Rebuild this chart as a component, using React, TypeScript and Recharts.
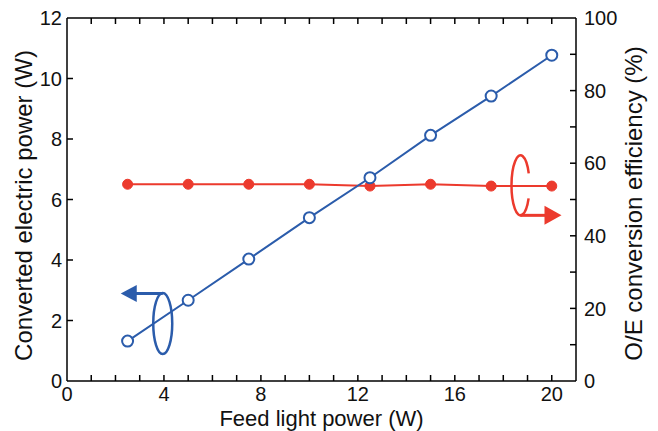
import React from 'react';
import { ComposedChart, Line, XAxis, YAxis, ReferenceDot } from 'recharts';

// Feed light power (W)
const feedPower = [2.5, 5, 7.5, 10, 12.5, 15, 17.5, 20];
// Converted electric power (W), left axis
const electricPower = [1.32, 2.67, 4.03, 5.4, 6.72, 8.12, 9.42, 10.77];
// O/E conversion efficiency (%), right axis
const efficiency = [54.2, 54.2, 54.2, 54.2, 53.7, 54.2, 53.7, 53.7];

const xTicks = [0, 1, 2, 3, 4, 5, 6, 7, 8, 9, 10, 11, 12, 13, 14, 15, 16, 17, 18, 19, 20, 21];
const xLabelTicks = [0, 4, 8, 12, 16, 20];
const leftTicks = [0, 2, 4, 6, 8, 10, 12];
const rightTicks = [0, 10, 20, 30, 40, 50, 60, 70, 80, 90, 100];
const rightLabelTicks = [0, 20, 40, 60, 80, 100];

// where the "which axis" loops sit, in data units
const blueLoop = { x: 3.95, y: 1.9 };
const redLoop = { x: 18.71, y: 53.9 };

const BLUE = '#2b5cab';
const RED = '#ec3a2d';
const FONT = '"Liberation Sans", Arial, sans-serif';
const TICK_FS = 20;
const X_TITLE_FS = 22;
const Y_TITLE_FS = 24;

const data = feedPower.map((x, i) => ({
  x,
  power: electricPower[i],
  eff: efficiency[i],
}));

const BottomTick = (props: any) => {
  const { x, y, payload } = props;
  const v = payload.value;
  return (
    <g>
      {v > 0 && v < 21 && <line x1={x} y1={y} x2={x} y2={y - 6} stroke="#000" strokeWidth={1.5} />}
      {xLabelTicks.includes(v) && (
        <text x={x} y={y + 20} textAnchor="middle" fontSize={TICK_FS} fill="#111" fontFamily={FONT}>
          {v}
        </text>
      )}
    </g>
  );
};

const TopTick = (props: any) => {
  const { x, y, payload } = props;
  const v = payload.value;
  if (v <= 0 || v >= 21) return <g />;
  return <line x1={x} y1={y} x2={x} y2={y + 6} stroke="#000" strokeWidth={1.5} />;
};

const LeftTick = (props: any) => {
  const { x, y, payload } = props;
  const v = payload.value;
  return (
    <g>
      {v > 0 && v < 12 && <line x1={x} y1={y} x2={x + 6} y2={y} stroke="#000" strokeWidth={1.5} />}
      <text x={x - 5} y={y} dy="0.36em" textAnchor="end" fontSize={TICK_FS} fill="#111" fontFamily={FONT}>
        {v}
      </text>
    </g>
  );
};

const RightTick = (props: any) => {
  const { x, y, payload } = props;
  const v = payload.value;
  return (
    <g>
      {v > 0 && v < 100 && <line x1={x} y1={y} x2={x - 6} y2={y} stroke="#000" strokeWidth={1.5} />}
      {rightLabelTicks.includes(v) && (
        <text x={x + 8} y={y} dy="0.36em" textAnchor="start" fontSize={TICK_FS} fill="#111" fontFamily={FONT}>
          {v}
        </text>
      )}
    </g>
  );
};

const XTitle = (props: any) => {
  const { viewBox } = props;
  return (
    <text
      x={viewBox.x + viewBox.width / 2}
      y={viewBox.y + viewBox.height - 5}
      textAnchor="middle"
      fontSize={X_TITLE_FS}
      fill="#111"
      fontFamily={FONT}
    >
      Feed light power (W)
    </text>
  );
};

// blue loop + arrow pointing left (left axis)
const BlueMarker = (props: any) => {
  const { cx, cy } = props;
  const top = cy - 30;
  return (
    <g>
      <ellipse cx={cx} cy={cy} rx={9.5} ry={30.5} fill="none" stroke={BLUE} strokeWidth={2.5} />
      <line x1={cx} y1={top} x2={cx - 27} y2={top} stroke={BLUE} strokeWidth={3} />
      <polygon points={`${cx - 42},${top} ${cx - 26},${top - 8.5} ${cx - 26},${top + 8.5}`} fill={BLUE} />
    </g>
  );
};

// red loop + arrow pointing right (right axis), broken where the line crosses
const RedMarker = (props: any) => {
  const { cx, cy } = props;
  const rx = 9;
  const ry = 30;
  const gapTop = cy - 12;
  const gapBot = cy + 13;
  const xt = cx + rx * Math.sqrt(1 - ((gapTop - cy) / ry) ** 2);
  const xb = cx + rx * Math.sqrt(1 - ((gapBot - cy) / ry) ** 2);
  const bottom = cy + ry;
  return (
    <g>
      <path
        d={`M ${xt} ${gapTop} A ${rx} ${ry} 0 1 0 ${xb} ${gapBot}`}
        fill="none"
        stroke={RED}
        strokeWidth={2.5}
      />
      <line x1={cx} y1={bottom} x2={cx + 26} y2={bottom} stroke={RED} strokeWidth={3} />
      <polygon points={`${cx + 41},${bottom} ${cx + 24},${bottom - 9.5} ${cx + 24},${bottom + 9.5}`} fill={RED} />
    </g>
  );
};

export default function App() {
  return (
    <div style={{ width: 658, height: 431, background: '#fff', fontFamily: FONT }}>
      <style>{`body{margin:0}`}</style>
      <ComposedChart width={658} height={431} data={data} margin={{ top: 0, right: 0, bottom: 0, left: 0 }}>
        <XAxis
          xAxisId="bottom"
          type="number"
          dataKey="x"
          domain={[0, 21]}
          ticks={xTicks}
          interval={0}
          height={50}
          tickSize={0}
          tickMargin={0}
          tick={<BottomTick />}
          axisLine={{ stroke: '#000', strokeWidth: 1.5 }}
          label={{ content: (p: any) => <XTitle {...p} /> }}
        />
        <XAxis
          xAxisId="top"
          orientation="top"
          type="number"
          dataKey="x"
          domain={[0, 21]}
          ticks={xTicks}
          interval={0}
          height={18}
          tickSize={0}
          tickMargin={0}
          tick={<TopTick />}
          axisLine={{ stroke: '#000', strokeWidth: 1.5 }}
        />
        <YAxis
          yAxisId="left"
          domain={[0, 12]}
          ticks={leftTicks}
          interval={0}
          width={67}
          tickSize={0}
          tickMargin={0}
          tick={<LeftTick />}
          axisLine={{ stroke: '#000', strokeWidth: 1.5 }}
          label={{
            value: 'Converted electric power (W)',
            angle: -90,
            position: 'insideLeft',
            offset: 23,
            dy: 6,
            style: { textAnchor: 'middle', fontSize: Y_TITLE_FS, fill: '#111', fontFamily: FONT },
          }}
        />
        <YAxis
          yAxisId="right"
          orientation="right"
          domain={[0, 100]}
          ticks={rightTicks}
          interval={0}
          width={82}
          tickSize={0}
          tickMargin={0}
          tick={<RightTick />}
          axisLine={{ stroke: '#000', strokeWidth: 1.5 }}
          label={{
            value: 'O/E conversion efficiency (%)',
            angle: -90,
            position: 'insideRight',
            offset: 25,
            dy: 4,
            style: { textAnchor: 'middle', fontSize: Y_TITLE_FS, fill: '#111', fontFamily: FONT },
          }}
        />
        <Line
          xAxisId="bottom"
          yAxisId="right"
          type="linear"
          dataKey="eff"
          stroke={RED}
          strokeWidth={2}
          dot={{ r: 5, fill: RED, stroke: RED, strokeWidth: 1 }}
          isAnimationActive={false}
        />
        <Line
          xAxisId="bottom"
          yAxisId="left"
          type="linear"
          dataKey="power"
          stroke={BLUE}
          strokeWidth={2}
          dot={{ r: 5.5, fill: '#fff', stroke: BLUE, strokeWidth: 2 }}
          isAnimationActive={false}
        />
        <ReferenceDot xAxisId="bottom" yAxisId="left" x={blueLoop.x} y={blueLoop.y} shape={<BlueMarker />} />
        <ReferenceDot xAxisId="bottom" yAxisId="right" x={redLoop.x} y={redLoop.y} shape={<RedMarker />} />
      </ComposedChart>
    </div>
  );
}
